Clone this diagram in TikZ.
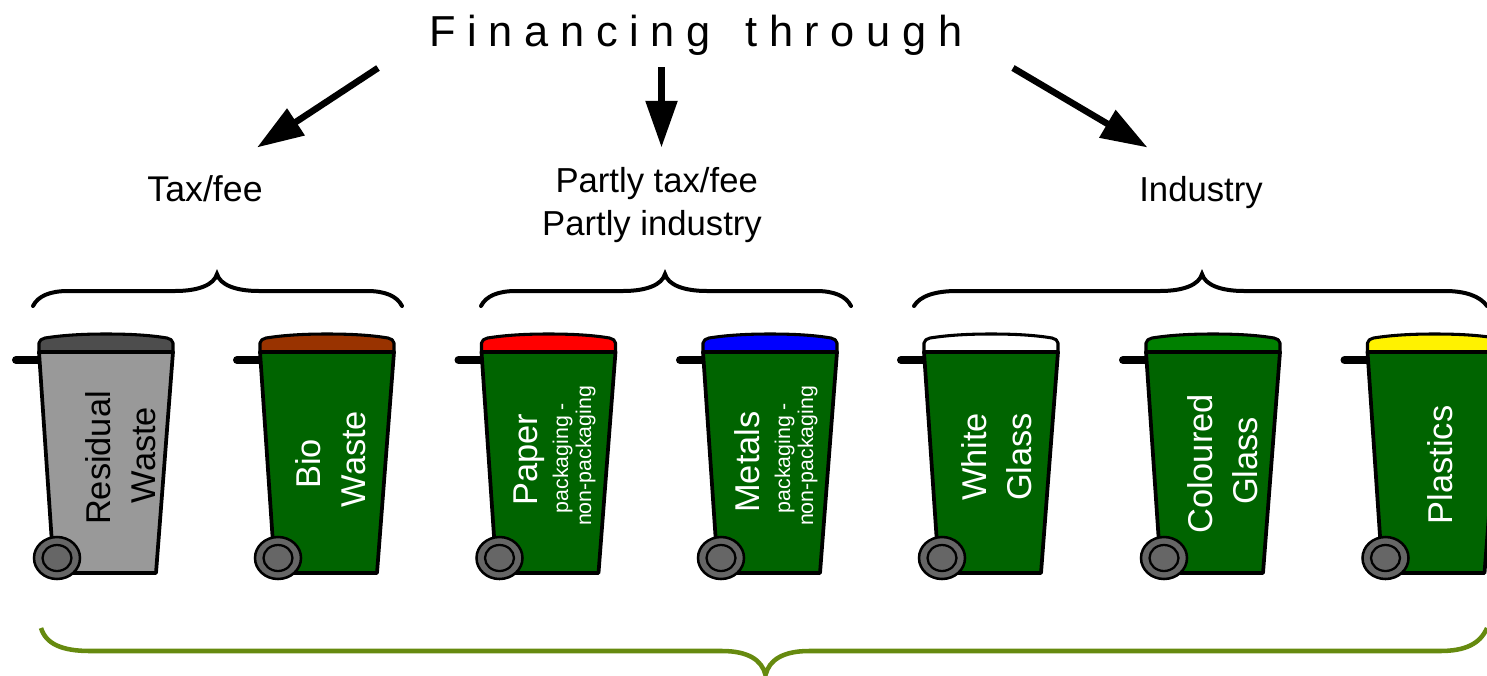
\documentclass[tikz,border=0pt]{standalone}
\usepackage{fontspec}
\setmainfont{Liberation Sans}
\usetikzlibrary{arrows.meta}
\definecolor{bingreen}{HTML}{006400}
\definecolor{lidgreen}{HTML}{008000}
\definecolor{bingrey}{HTML}{999999}
\definecolor{lidgrey}{HTML}{4D4D4D}
\definecolor{lidbrown}{HTML}{993300}
\definecolor{wheelgrey}{HTML}{666666}
\definecolor{olivebrace}{HTML}{668A0F}
\tikzset{
  binoutline/.style={draw=black,line width=2.8pt,line join=round},
  bigarrow/.style={line width=4.9pt,-{Triangle[length=35pt,width=23pt]}},
  bracket/.style={draw=black,line width=3pt,line cap=round},
  greenbracket/.style={draw=olivebrace,line width=3.4pt},
  heading/.style={font=\fontsize{26}{31}\selectfont,text=black,inner sep=0pt},
  binlabel/.style={font=\fontsize{25.8}{30}\selectfont,rotate=90,anchor=base,inner sep=0pt},
  binsmall/.style={font=\fontsize{16}{18}\selectfont,rotate=90,anchor=base,inner sep=0pt},
  pics/wastebin/.style n args={2}{code={
    \draw[line width=6pt,line cap=round] (-23,8) -- (0,8);
    \path[fill=#1,binoutline] (0,0) -- (134,0) -- (117,221) -- (15,221) -- cycle;
    \path[fill=#2,binoutline,line width=2.3pt] (0,0) -- (0,-9) .. controls (0,-12) and (3,-13) .. (6,-14) .. controls (25,-17) and (45,-18) .. (67,-18) .. controls (90,-18) and (110,-17) .. (128,-14) .. controls (131,-13) and (134,-12) .. (134,-9) -- (134,0) -- cycle;
    \draw[line width=3.4pt] (0,0) -- (134,0);
    \path[fill=wheelgrey,draw=black,line width=1.9pt] (18,206) ellipse [x radius=23,y radius=21];
    \path[fill=wheelgrey,draw=black,line width=1.7pt] (18,206) ellipse [x radius=14.5,y radius=13];
  }}
}
\begin{document}
\begin{tikzpicture}[x=0.75pt,y=-0.75pt]
\useasboundingbox (0,0) rectangle (1487,675);
\clip (0,0) rectangle (1487,675);
% headings
\node[font=\fontsize{32.5}{38}\selectfont\addfontfeature{LetterSpace=27},inner sep=0pt] (title) at (696,35) {Financing\hspace{8pt} through};
\node[heading,font=\fontsize{26.8}{32}\selectfont] (tax) at (205,189) {Tax/fee};
\node[heading,align=center] (partly) at (652,205) {\makebox[0pt]{\hspace*{7pt}Partly tax/fee}\\[1.9pt]\makebox[0pt]{Partly industry}};
\node[heading] (industry) at (1201,193) {Industry};
% arrows
\coordinate (a1s) at (378,68); \coordinate (a1e) at (257,147.5);
\coordinate (a2s) at (661.5,67); \coordinate (a2e) at (661.5,147.5);
\coordinate (a3s) at (1013,68); \coordinate (a3e) at (1147.5,147.5);
\draw[bigarrow] (a1s) -- (a1e);
\draw[bigarrow] (a2s) -- (a2e);
\draw[bigarrow] (a3s) -- (a3e);
% top brackets
\draw[bracket] (33,306) .. controls (38,296) and (50,291) .. (68,291) -- (175,291) .. controls (198,291) and (214,285) .. (217,274) .. controls (220,285) and (236,291) .. (259,291) -- (367,291) .. controls (385,291) and (397,296) .. (402,306);
\draw[bracket] (481,306) .. controls (486,296) and (498,291) .. (516,291) -- (623,291) .. controls (646,291) and (662,285) .. (665,274) .. controls (668,285) and (684,291) .. (707,291) -- (816,291) .. controls (834,291) and (846,296) .. (851,306);
\draw[bracket] (914,306) .. controls (920,296) and (935,291) .. (957,291) -- (1160,291) .. controls (1183,291) and (1199,285) .. (1202,274) .. controls (1205,285) and (1221,291) .. (1244,291) -- (1445,291) .. controls (1465,291) and (1480,296) .. (1487,306);
% bins
\pic at (39,352) {wastebin={bingrey}{lidgrey}};
\pic at (260,352) {wastebin={bingreen}{lidbrown}};
\pic at (481.5,352) {wastebin={bingreen}{red}};
\pic at (703,352) {wastebin={bingreen}{blue}};
\pic at (924,352) {wastebin={bingreen}{white}};
\pic at (1146,352) {wastebin={bingreen}{lidgreen}};
\pic at (1367.5,352) {wastebin={bingreen}{yellow}};
% bin labels
\node[binlabel,text=black] (residual) at (110,458) {Residual};
\node[binlabel,text=black] (waste1) at (155,455) {Waste};
\node[binlabel,text=white] (bio) at (320,464) {Bio};
\node[binlabel,text=white] (waste2) at (365,459) {Waste};
\node[binlabel,text=white] (paper) at (537,460) {Paper};
\node[binsmall,text=white] (pack1) at (568,458) {packaging -};
\node[binsmall,text=white] (non1) at (591,456) {non-packaging};
\node[binlabel,text=white] (metals) at (759,462) {Metals};
\node[binsmall,text=white] (pack2) at (790,458) {packaging -};
\node[binsmall,text=white] (non2) at (813,456) {non-packaging};
\node[binlabel,text=white] (white) at (986,457) {White};
\node[binlabel,text=white] (glass1) at (1031,457) {Glass};
\node[binlabel,text=white] (coloured) at (1212,464) {Coloured};
\node[binlabel,text=white] (glass2) at (1257,461) {Glass};
\node[binlabel,text=white] (plastics) at (1452,465) {Plastics};
% bottom bracket
\draw[greenbracket] (41,628) .. controls (46,644) and (62,651) .. (90,651) -- (722,651) .. controls (748,651) and (762,660) .. (765.5,675) .. controls (769,660) and (783,651) .. (809,651) -- (1440,651) .. controls (1465,651) and (1480,644) .. (1487,628);
\end{tikzpicture}
\end{document}
